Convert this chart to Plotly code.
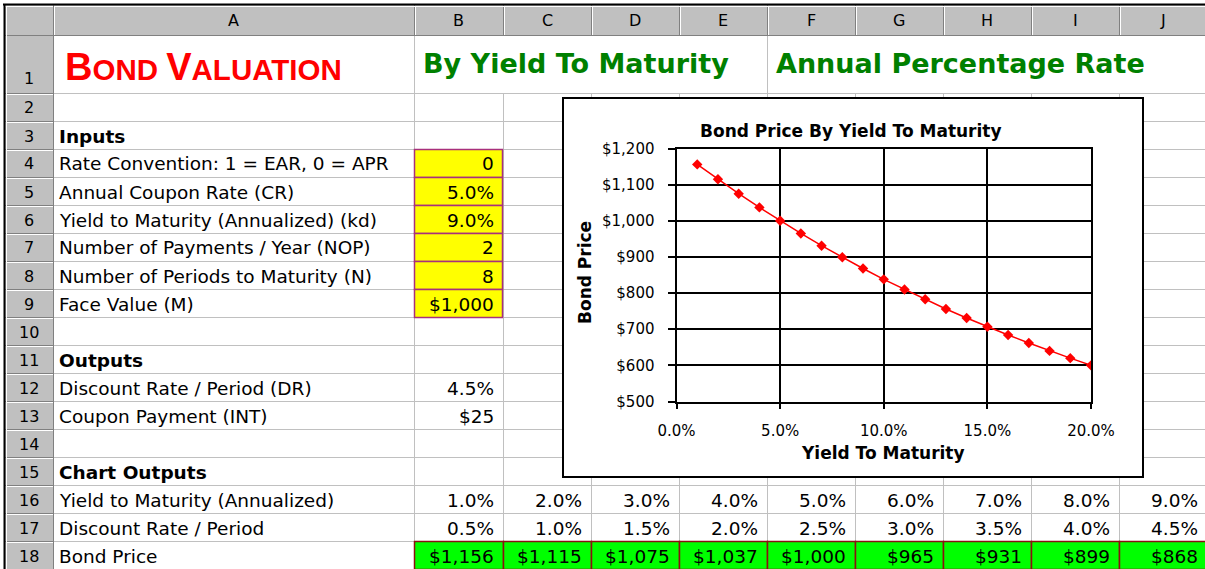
import plotly.graph_objects as go

W, H = 1205, 569

# ---------------- data ----------------
col_letters = ["A", "B", "C", "D", "E", "F", "G", "H", "I", "J"]
title_main = "BOND VALUATION"
title_sub1 = "By Yield To Maturity"
title_sub2 = "Annual Percentage Rate"

input_labels = ["Rate Convention: 1 = EAR, 0 = APR", "Annual Coupon Rate (CR)",
                "Yield to Maturity (Annualized) (kd)", "Number of Payments / Year (NOP)",
                "Number of Periods to Maturity (N)", "Face Value (M)"]
input_values = ["0", "5.0%", "9.0%", "2", "8", "$1,000"]

output_labels = ["Discount Rate / Period (DR)", "Coupon Payment (INT)"]
output_values = ["4.5%", "$25"]

chart_row_labels = ["Yield to Maturity (Annualized)", "Discount Rate / Period", "Bond Price"]

# chart series: yield to maturity (annualized) and bond price
ytm = [0.01, 0.02, 0.03, 0.04, 0.05, 0.06, 0.07, 0.08, 0.09, 0.10,
       0.11, 0.12, 0.13, 0.14, 0.15, 0.16, 0.17, 0.18, 0.19, 0.20]
bond_price = [1156, 1115, 1075, 1037, 1000, 965, 931, 899, 868, 838,
              810, 783, 756, 731, 707, 684, 662, 640, 620, 600]
discount_rate = [0.005, 0.010, 0.015, 0.020, 0.025, 0.030, 0.035, 0.040, 0.045]

# ---------------- layout geometry (pixels) ----------------
col_edges = [53, 414, 503, 591, 679, 767, 855, 943, 1031, 1119, 1207]
row_tops = {1: 35, 2: 93}
for r in range(3, 19):
    row_tops[r] = 121 + (r - 3) * 28
row_bottom = {r: (row_tops[r + 1] if r < 18 else 569) for r in range(1, 19)}

def X(px):
    return px / W

def Y(py):
    return 1 - py / H

shapes = []

def rect(x0, y0, x1, y1, fill, line="rgba(0,0,0,0)", lw=0):
    shapes.append(dict(type="rect", xref="paper", yref="paper",
                       x0=X(x0), x1=X(x1), y0=Y(y1), y1=Y(y0),
                       fillcolor=fill, line=dict(color=line, width=lw), layer="below"))

def seg(x0, y0, x1, y1, color, lw=1):
    shapes.append(dict(type="line", xref="paper", yref="paper",
                       x0=X(x0), x1=X(x1), y0=Y(y0), y1=Y(y1),
                       line=dict(color=color, width=lw), layer="below"))

GRID = "#c0c0c0"
HDR = "#c0c0c0"

# header row + row-number column
rect(5, 5, W, 35, HDR)
rect(5, 35, 53, H, HDR)

# cell gridlines
for r in range(1, 19):
    yb = row_bottom[r] + 0.5
    seg(53, yb, W, yb, GRID)
for i, xe in enumerate(col_edges[1:-1]):
    x = xe + 0.5
    for r in range(2, 19):
        seg(x, row_tops[r], x, row_bottom[r], GRID)
    if xe in (414, 767):
        seg(x, 35, x, 93, GRID)

# yellow input cells
for k in range(6):
    r = 4 + k
    rect(414.5, row_tops[r] + 0.5, 502.5, row_bottom[r] + 0.5, "#ffff00", "#a8307c", 1.5)
# green bond price cells
for c in range(1, 10):
    rect(col_edges[c] + 0.5, row_tops[18] + 0.5, col_edges[c + 1] + 0.5, 569.5,
         "#00ff00", "#8b1010", 1.5)

# header separators
for xe in col_edges:
    seg(xe + 0.5, 5, xe + 0.5, 35, "#808080")
    seg(xe + 1.5, 6, xe + 1.5, 35, "#ffffff")
seg(5, 35.5, W, 35.5, "#808080")
seg(5, 6.5, W, 6.5, "#ffffff")
for r in range(1, 19):
    yb = row_bottom[r] + 0.5
    seg(5, yb, 53, yb, "#808080")
    seg(6, yb + 1, 53, yb + 1, "#ffffff")
seg(6.5, 6, 6.5, H, "#ffffff")
seg(53.5, 5, 53.5, H, "#808080")

# outer frame
seg(3, 4.5, W, 4.5, "#000000", 2)
seg(4.5, 4, 4.5, H, "#000000", 2)

# chart box
rect(563, 98, 1143, 477, "#ffffff", "#000000", 2)

# ---------------- annotations ----------------
ann = []
FONT = "DejaVu Sans"
BODY = 18.5

def text(px, py, s, size=BODY, color="black", xanchor="left", bold=False, family=FONT,
         textangle=0):
    ann.append(dict(x=X(px), y=Y(py), xref="paper", yref="paper", text=s,
                    showarrow=False, xanchor=xanchor, yanchor="middle",
                    textangle=textangle,
                    font=dict(family=family, size=size, color=color,
                              weight="bold" if bold else "normal")))

# column letters
for i, L in enumerate(col_letters):
    cx = (col_edges[i] + col_edges[i + 1]) / 2
    text(cx, 21, L, 16, xanchor="center")
# row numbers
for r in range(1, 19):
    cy = (row_tops[r] + row_bottom[r]) / 2 + 1
    if r == 1:
        cy = 78
    text(29, cy, str(r), 16, xanchor="center")

def rc(r):
    return (row_tops[r] + row_bottom[r]) / 2 + 1

# titles
big = title_main.split(" ")
main_html = " ".join("<span style='font-size:38px'>%s</span>%s" % (w[0], w[1:]) for w in big)
ann.append(dict(x=X(63), y=Y(67), xref="paper", yref="paper", text=main_html,
                showarrow=False, xanchor="left", yanchor="middle",
                font=dict(family="Liberation Sans", size=29.5, color="#ff0000", weight="bold")))
text(421, 64, title_sub1, 27, "#008000", bold=True)
text(774, 64, title_sub2, 27, "#008000", bold=True)

# section headers and labels
text(57, rc(3), "Inputs", BODY, bold=True)
for k, (lab, val) in enumerate(zip(input_labels, input_values)):
    r = 4 + k
    text(57, rc(r), lab)
    text(col_edges[2] - 7, rc(r), val, xanchor="right")
text(57, rc(11), "Outputs", BODY, bold=True)
for k, (lab, val) in enumerate(zip(output_labels, output_values)):
    r = 12 + k
    text(57, rc(r), lab)
    text(col_edges[2] - 7, rc(r), val, xanchor="right")
text(57, rc(15), "Chart Outputs", BODY, bold=True)
for k, lab in enumerate(chart_row_labels):
    text(57, rc(16 + k), lab)
for c in range(9):
    xr = col_edges[c + 2] - 7
    text(xr, rc(16), "%.1f%%" % (ytm[c] * 100), xanchor="right")
    text(xr, rc(17), "%.1f%%" % (discount_rate[c] * 100), xanchor="right")
    text(xr, rc(18), "${:,}".format(bond_price[c]), xanchor="right")

# chart texts
text(851, 131, "Bond Price By Yield To Maturity", 17, xanchor="center", bold=True)
text(883, 453, "Yield To Maturity", 17, xanchor="center", bold=True)
text(585, 273, "Bond Price", 17, xanchor="center", bold=True, textangle=-90)

# ---------------- figure ----------------
fig = go.Figure()
fig.add_trace(go.Scatter(x=ytm, y=bond_price, mode="lines+markers",
                         line=dict(color="#ff0000", width=1.5),
                         marker=dict(symbol="diamond", size=8, color="#ff0000"),
                         showlegend=False, hoverinfo="x+y"))

axis_common = dict(showgrid=True, gridcolor="black", gridwidth=2,
                   showline=True, linecolor="black", linewidth=2, mirror=True,
                   ticks="outside", tickwidth=2, tickcolor="black", zeroline=False,
                   automargin=False,
                   tickfont=dict(family=FONT, size=15, color="black"), fixedrange=True)

fig.update_layout(
    width=W, height=H, margin=dict(l=0, r=0, t=0, b=0, pad=0), autosize=False,
    paper_bgcolor="white", plot_bgcolor="rgba(0,0,0,0)",
    xaxis=dict(domain=[X(676.5), X(1091)], range=[0, 0.2], tick0=0, dtick=0.05,
               tickformat=".1%", ticklen=5, ticklabelstandoff=9, **axis_common),
    yaxis=dict(domain=[Y(401.5), Y(148.5)], range=[500, 1200], tick0=500, dtick=100,
               tickprefix="$", tickformat=",d", ticklen=7, ticklabelstandoff=10,
               **axis_common),
    shapes=shapes, annotations=ann,
)

fig.write_html("out.html", config={"displayModeBar": False},
               post_script="document.body.style.margin='0';document.body.style.overflow='hidden';")
